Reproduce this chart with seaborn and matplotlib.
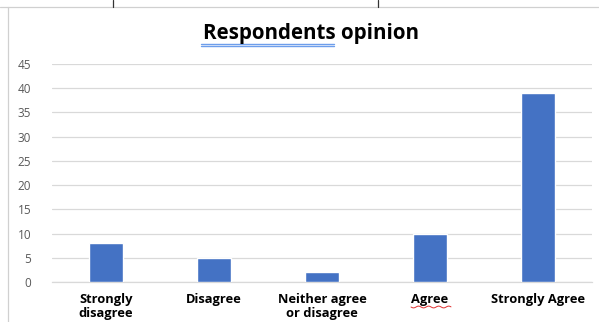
import matplotlib
matplotlib.use("Agg")
import matplotlib.pyplot as plt
import seaborn as sns
import pandas as pd
import numpy as np
from matplotlib.lines import Line2D

categories = ["Strongly\ndisagree", "Disagree", "Neither agree\nor disagree", "Agree", "Strongly Agree"]
counts = [8, 5, 2, 10, 39]
yticks = [0, 5, 10, 15, 20, 25, 30, 35, 40, 45]

df = pd.DataFrame({"opinion": categories, "count": counts})

sns.set_theme(style="white")
plt.rcParams["font.family"] = ["Open Sans", "DejaVu Sans"]

W, H = 599, 322
fig = plt.figure(figsize=(W / 100, H / 100), dpi=100)
ax = fig.add_axes([52 / W, 1 - 282 / H, 540 / W, (282 - 64) / H])

sns.barplot(data=df, x="opinion", y="count", color="#4472C4", width=0.31,
            saturation=1, ax=ax, zorder=3)

ax.set_ylim(0, 45)
ax.set_xlim(-0.5, 4.5)
ax.set_yticks(yticks)
ax.yaxis.grid(True, color="#d9d9d9", linewidth=0.9, zorder=0)
for s in ["top", "right", "left"]:
    ax.spines[s].set_visible(False)
ax.spines["bottom"].set_color("#d9d9d9")
ax.spines["bottom"].set_linewidth(0.9)
ax.set_xlabel("")
ax.set_ylabel("")
ax.tick_params(axis="y", length=0, labelsize=8.5, labelcolor="#595959", pad=15)
ax.tick_params(axis="x", length=0, labelsize=9.3, pad=8)
for lbl in ax.get_xticklabels():
    lbl.set_fontweight("bold")
    lbl.set_color("black")
    lbl.set_linespacing(1.1)
    lbl.set_verticalalignment("top")

# title with spell-check style underline on the first word
fig.text(311 / W, 1 - 33 / H, "Respondents opinion", ha="center", va="center",
         fontsize=14.8, fontweight="bold", color="black")
fig.add_artist(Line2D([201 / W, 334 / W], [1 - 44 / H, 1 - 44 / H],
                      color="#6d9eeb", linewidth=1.0))
fig.add_artist(Line2D([201 / W, 334 / W], [1 - 46 / H, 1 - 46 / H],
                      color="#6d9eeb", linewidth=1.0))

# wavy underline under "Agree"
xs = np.linspace(411, 451, 60)
ys = 307 + 0.9 * np.sin((xs - 411) / 1.6)
fig.add_artist(Line2D(xs / W, 1 - ys / H, color="#e03030", linewidth=0.7))

# page border pieces
fig.add_artist(Line2D([0, 1], [1 - 7 / H, 1 - 7 / H], color="#d0d0d0", linewidth=0.9))
fig.add_artist(Line2D([8 / W, 8 / W], [0, 1 - 7 / H], color="#d0d0d0", linewidth=0.9))
fig.add_artist(Line2D([113 / W, 113 / W], [1, 1 - 7 / H], color="#333333", linewidth=0.9))
fig.add_artist(Line2D([378 / W, 378 / W], [1, 1 - 7 / H], color="#333333", linewidth=0.9))

fig.savefig("out.png", dpi=100)
